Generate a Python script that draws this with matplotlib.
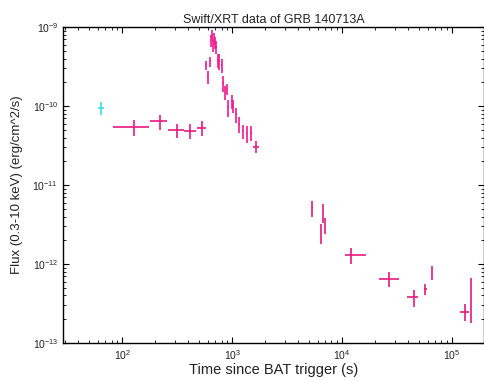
import matplotlib.pyplot as plt
import numpy as np

plt.rcParams['font.family'] = ['Liberation Sans', 'DejaVu Sans']

# WT settling point (cyan)
wt_t = [64]
wt_tlo = [60]
wt_thi = [68]
wt_f = [9.6e-11]
wt_ferr = [1.8e-11]

# early plateau bins
early_t = [128, 221, 314, 415, 534]
early_tlo = [83, 180, 262, 366, 481]
early_thi = [176, 256, 366, 471, 580]
early_f = [5.4e-11, 6.4e-11, 4.97e-11, 4.87e-11, 5.3e-11]
early_ferr = [1.2e-11, 1.35e-11, 1.0e-11, 1.0e-11, 1.15e-11]

# flare
flare_t = [578, 600, 631, 644, 658, 672, 686, 700, 716, 741, 767, 806, 834,
           863, 895, 925, 993, 1028, 1087, 1165, 1250, 1360, 1480, 1641]
flare_dt = [6, 6, 6, 6, 6, 6, 6, 6, 7, 7, 8, 8, 9,
            9, 10, 10, 11, 12, 13, 14, 16, 18, 20, 110]
flare_f = [3.3e-10, 2.33e-10, 3.7e-10, 6.8e-10, 7.9e-10, 5.9e-10, 7.3e-10, 6.45e-10,
           5.6e-10, 3.8e-10, 3.7e-10, 3.3e-10, 1.95e-10, 1.5e-10, 1.64e-10, 9.7e-11,
           1.16e-10, 1.01e-10, 7.9e-11, 5.9e-11, 4.83e-11, 4.55e-11, 4.6e-11, 3.07e-11]
flare_ferr = [0.45e-10, 0.45e-10, 0.55e-10, 1.2e-10, 1.3e-10, 1.0e-10, 1.2e-10, 1.1e-10,
              1.0e-10, 0.75e-10, 0.85e-10, 0.7e-10, 0.45e-10, 0.32e-10, 0.25e-10, 0.24e-10,
              0.24e-10, 0.2e-10, 0.17e-10, 0.13e-10, 0.1e-10, 0.11e-10, 0.1e-10, 0.55e-11]

# late-time decay
late_t = [5370, 6400, 6680, 7000, 12000, 26700, 45400, 56900, 65300, 131000, 149000]
late_tlo = [5330, 6360, 6640, 6950, 10650, 21700, 38700, 55500, 65000, 119000, 148500]
late_thi = [5410, 6440, 6720, 7050, 16500, 33200, 49400, 58500, 65600, 143000, 149500]
late_f = [5.1e-12, 2.5e-12, 4.5e-12, 3.1e-12, 1.3e-12, 6.45e-13, 3.8e-13, 4.83e-13,
          7.8e-13, 2.49e-13, 4.2e-13]
late_ferr = [1.1e-12, 0.7e-12, 1.2e-12, 0.7e-12, 0.3e-12, 1.4e-13, 0.9e-13, 0.8e-13,
             1.6e-13, 0.6e-13, 2.4e-13]

pink = '#e6197f'
flare_pink = '#f21890'
cyan = '#33e0e8'
text_col = '#222222'

fig = plt.figure(figsize=(4.85, 3.81), dpi=100)
ax = fig.add_axes([0.13, 0.0997, 0.868, 0.829])


def xerrs(t, lo, hi):
    t = np.array(t)
    return [t - np.array(lo), np.array(hi) - t]


ax.errorbar(wt_t, wt_f, xerr=xerrs(wt_t, wt_tlo, wt_thi), yerr=wt_ferr,
            fmt='none', ecolor=cyan, elinewidth=1.2)
ax.errorbar(early_t, early_f, xerr=xerrs(early_t, early_tlo, early_thi), yerr=early_ferr,
            fmt='none', ecolor=pink, elinewidth=1.2)
ax.errorbar(flare_t, flare_f, xerr=flare_dt, yerr=flare_ferr,
            fmt='none', ecolor=flare_pink, elinewidth=1.2)
ax.errorbar(late_t, late_f, xerr=xerrs(late_t, late_tlo, late_thi), yerr=late_ferr,
            fmt='none', ecolor=pink, elinewidth=1.2)

ax.set_xscale('log')
ax.set_yscale('log')
ax.set_xlim(29, 1.95e5)
ax.set_ylim(1e-13, 1e-9)

ax.tick_params(which='both', direction='in', top=True, right=True, labelsize=7.5,
               labelcolor=text_col)
ax.tick_params(which='major', length=4)
ax.tick_params(which='minor', length=2)
for s in ax.spines.values():
    s.set_linewidth(1.0)

ax.set_title('Swift/XRT data of GRB 140713A', fontsize=9, pad=3, color=text_col)
ax.set_xlabel('Time since BAT trigger (s)', fontsize=10.5, labelpad=1, color=text_col)
ax.set_ylabel('Flux (0.3-10 keV) (erg/cm^2/s)', fontsize=9.5, labelpad=7, color=text_col)

fig.savefig('out.png', dpi=100)
